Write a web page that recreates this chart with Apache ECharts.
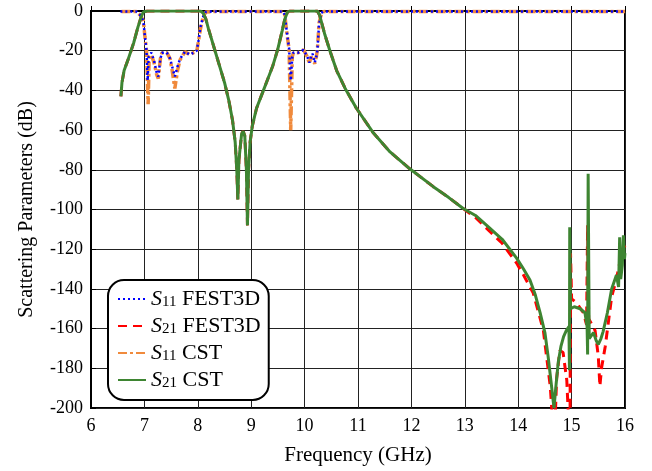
<!DOCTYPE html>
<html>
<head>
<meta charset="utf-8">
<script src="https://cdn.jsdelivr.net/npm/echarts@6/dist/echarts.min.js"></script>
<style>
  html, body { margin: 0; padding: 0; background: #fff; }
  #chart { width: 652px; height: 471px; }
</style>
</head>
<body>
<div id="chart"></div>
<script>
// [frequency GHz, dB]
const s11Fest = [
  [6.55, -0.3], [6.85, -0.3], [6.92, -2], [6.98, -5], [7.01, -13], [7.04, -20], [7.06, -35], [7.08, -23],
  [7.13, -21], [7.18, -25], [7.23, -31], [7.26, -33], [7.3, -24], [7.33, -21], [7.42, -21], [7.48, -24],
  [7.52, -28], [7.57, -33], [7.62, -28], [7.67, -24], [7.76, -20.5], [7.85, -22], [7.92, -21], [7.98, -20],
  [8.02, -14], [8.05, -8], [8.1, -3], [8.15, -0.5], [8.25, -0.3], [9.6, -0.3], [9.63, -2], [9.66, -9],
  [9.71, -19], [9.74, -35], [9.77, -23], [9.79, -21], [9.88, -21], [9.98, -19.6], [10.05, -23], [10.09, -26],
  [10.12, -23], [10.15, -21.5], [10.19, -26], [10.22, -23], [10.24, -19.6], [10.27, -7], [10.31, -1],
  [10.35, -0.3], [16, -0.3]
]
const s11Cst = [
  [6.57, -0.3], [6.85, -0.3], [6.92, -2], [6.98, -5], [7.01, -13], [7.04, -20], [7.07, -47], [7.09, -23],
  [7.13, -22], [7.18, -26], [7.23, -32], [7.26, -34], [7.3, -24], [7.33, -21], [7.42, -21], [7.48, -24],
  [7.52, -30], [7.57, -39], [7.62, -30], [7.67, -24.5], [7.76, -20.5], [7.85, -22], [7.92, -21], [7.98, -20.5],
  [8.02, -14], [8.05, -9], [8.1, -3], [8.15, -0.5], [8.25, -0.3], [9.6, -0.3], [9.63, -2], [9.66, -9.5],
  [9.71, -19.5], [9.74, -60], [9.77, -23], [9.79, -21], [9.88, -21], [9.98, -19.6], [10.05, -23], [10.09, -26.5],
  [10.12, -23], [10.15, -22], [10.19, -26.5], [10.22, -23], [10.24, -19.6], [10.27, -6], [10.32, -1],
  [10.36, -0.3], [16, -0.3]
]
const s21Fest = [
  [6.56, -43], [6.58, -36], [6.62, -30], [6.7, -24], [6.8, -16], [6.88, -8], [6.94, -3], [6.98, -0.5],
  [7.05, 0], [8.05, 0], [8.1, -1], [8.15, -4], [8.2, -9], [8.3, -18], [8.4, -27], [8.5, -36], [8.58, -45],
  [8.65, -55], [8.7, -66], [8.73, -80], [8.75, -95], [8.77, -75], [8.82, -62], [8.85, -60.5], [8.88, -63],
  [8.91, -80], [8.93, -108], [8.95, -80], [8.98, -66], [9.02, -58], [9.1, -49], [9.2, -42], [9.3, -35],
  [9.4, -28], [9.5, -19], [9.58, -10], [9.63, -4], [9.68, -0.5], [9.72, 0], [10.24, 0], [10.28, -2],
  [10.32, -6], [10.38, -12], [10.48, -20.5], [10.6, -30], [10.76, -39], [10.97, -49], [11.29, -61.5],
  [11.6, -71], [11.97, -79.5], [12.41, -88.5], [12.7, -94], [12.97, -99.5], [13.2, -104], [13.41, -109.5],
  [13.7, -117], [13.97, -127], [14.1, -133], [14.28, -142], [14.47, -160.7], [14.6, -189], [14.64, -205],
  [14.68, -215], [14.72, -185], [14.78, -171], [14.84, -172], [14.91, -186], [14.95, -210], [14.97, -215],
  [14.98, -122], [15.0, -145], [15.09, -147], [15.22, -152], [15.28, -158], [15.3, -108], [15.32, -155],
  [15.44, -161], [15.5, -174], [15.53, -189], [15.56, -180], [15.63, -169], [15.75, -144], [15.84, -135],
  [15.9, -127], [15.96, -120], [16, -118]
]
const s21Cst = [
  [6.56, -43], [6.58, -36], [6.62, -30], [6.7, -24], [6.8, -16], [6.88, -8], [6.94, -3], [6.98, -0.5],
  [7.05, 0], [8.05, 0], [8.1, -1], [8.15, -4], [8.2, -9], [8.3, -18], [8.4, -27], [8.5, -36], [8.58, -45],
  [8.65, -55], [8.7, -66], [8.73, -80], [8.75, -95], [8.77, -75], [8.82, -62], [8.85, -60.5], [8.88, -63],
  [8.91, -80], [8.93, -108], [8.95, -80], [8.98, -66], [9.02, -58], [9.1, -49], [9.2, -42], [9.3, -35],
  [9.4, -28], [9.5, -19], [9.58, -10], [9.63, -4], [9.68, -0.5], [9.72, 0], [10.24, 0], [10.28, -2],
  [10.32, -6], [10.38, -12], [10.48, -20.5], [10.6, -30], [10.76, -39], [10.97, -49], [11.29, -61.5],
  [11.6, -71], [11.97, -79.5], [12.41, -88.5], [12.7, -94], [12.97, -99.5], [13.2, -103], [13.41, -108],
  [13.7, -115], [13.97, -124.5], [14.1, -130], [14.22, -135.5], [14.32, -143], [14.41, -152], [14.5, -162],
  [14.56, -174], [14.62, -188], [14.67, -200], [14.71, -188], [14.75, -177], [14.8, -169], [14.85, -164],
  [14.9, -161], [14.95, -159], [14.96, -181], [14.965, -109], [14.98, -150], [15.05, -149], [15.16, -150],
  [15.25, -152], [15.29, -159], [15.3, -173], [15.31, -82], [15.33, -165], [15.41, -162], [15.46, -166],
  [15.5, -168], [15.55, -165], [15.59, -161.5], [15.67, -152], [15.75, -140], [15.84, -133], [15.88, -139],
  [15.9, -114], [15.92, -135], [15.95, -128], [15.97, -113], [15.99, -125], [16, -122]
]
const legendNames = ['S11 FEST3D', 'S21 FEST3D', 'S11 CST', 'S21 CST']

const serif = 'Liberation Serif'
const chart = echarts.init(document.getElementById('chart'))

chart.setOption({
  animation: false,
  grid: {
    left: 91, right: 27, top: 11, bottom: 63,
    show: true, borderColor: '#000', borderWidth: 2
  },
  xAxis: {
    type: 'value', min: 6, max: 16, interval: 1,
    name: 'Frequency (GHz)', nameLocation: 'middle', nameGap: 37,
    nameTextStyle: { fontFamily: serif, fontSize: 21, color: '#000' },
    axisLine: { show: true, lineStyle: { color: '#000', width: 2 } },
    axisTick: { show: true, inside: true, lineStyle: { color: '#000' } },
    axisLabel: { fontFamily: serif, fontSize: 18, color: '#000', margin: 9 },
    splitLine: { show: true, lineStyle: { color: '#222', width: 1 } }
  },
  yAxis: {
    type: 'value', min: -200, max: 0, interval: 20,
    name: 'Scattering Parameters (dB)', nameLocation: 'middle', nameGap: 54,
    nameTextStyle: { fontFamily: serif, fontSize: 20, color: '#000' },
    axisLine: { show: true, lineStyle: { color: '#000', width: 2 } },
    axisTick: { show: true, inside: true, lineStyle: { color: '#000' } },
    axisLabel: { fontFamily: serif, fontSize: 18, color: '#000', margin: 8 },
    splitLine: { show: true, lineStyle: { color: '#222', width: 1 } }
  },
  legend: {
    data: legendNames,
    orient: 'vertical',
    left: 108, top: 280,
    padding: [8, 8, 9, 9],
    itemGap: 5,
    itemWidth: 28, itemHeight: 14,
    backgroundColor: '#fff',
    borderColor: '#000', borderWidth: 2, borderRadius: 16,
    itemStyle: { opacity: 0 },
    formatter: function(name) {
      const parts = name.split(' ')
      return '{it|S}{sub|' + parts[0].slice(1) + '}{t| ' + parts[1] + '}'
    },
    textStyle: {
      rich: {
        it: { fontFamily: serif, fontStyle: 'italic', fontSize: 22, color: '#000', lineHeight: 22, verticalAlign: 'top' },
        sub: { fontFamily: serif, fontSize: 15, color: '#000', lineHeight: 21, verticalAlign: 'bottom', padding: [5, 0, 0, 0] },
        t: { fontFamily: serif, fontSize: 22, color: '#000', lineHeight: 22, verticalAlign: 'top' }
      }
    }
  },
  series: [
    {
      name: 'S11 FEST3D', type: 'line', data: s11Fest, showSymbol: false, symbol: 'none', z: 4,
      lineStyle: { color: '#0000ff', width: 2.5, type: [2, 3] }, itemStyle: { color: '#0000ff' }
    },
    {
      name: 'S21 FEST3D', type: 'line', data: s21Fest, showSymbol: false, symbol: 'none', z: 2,
      lineStyle: { color: '#ff0000', width: 3, type: [9, 6] }, itemStyle: { color: '#ff0000' }
    },
    {
      name: 'S11 CST', type: 'line', data: s11Cst, showSymbol: false, symbol: 'none', z: 3,
      lineStyle: { color: '#f08a3c', width: 3.5, type: [9, 3, 3, 3] }, itemStyle: { color: '#f08a3c' }
    },
    {
      name: 'S21 CST', type: 'line', data: s21Cst, showSymbol: false, symbol: 'none', z: 5,
      lineStyle: { color: '#3e8532', width: 3 }, itemStyle: { color: '#3e8532' }
    }
  ]
})
</script>
</body>
</html>
